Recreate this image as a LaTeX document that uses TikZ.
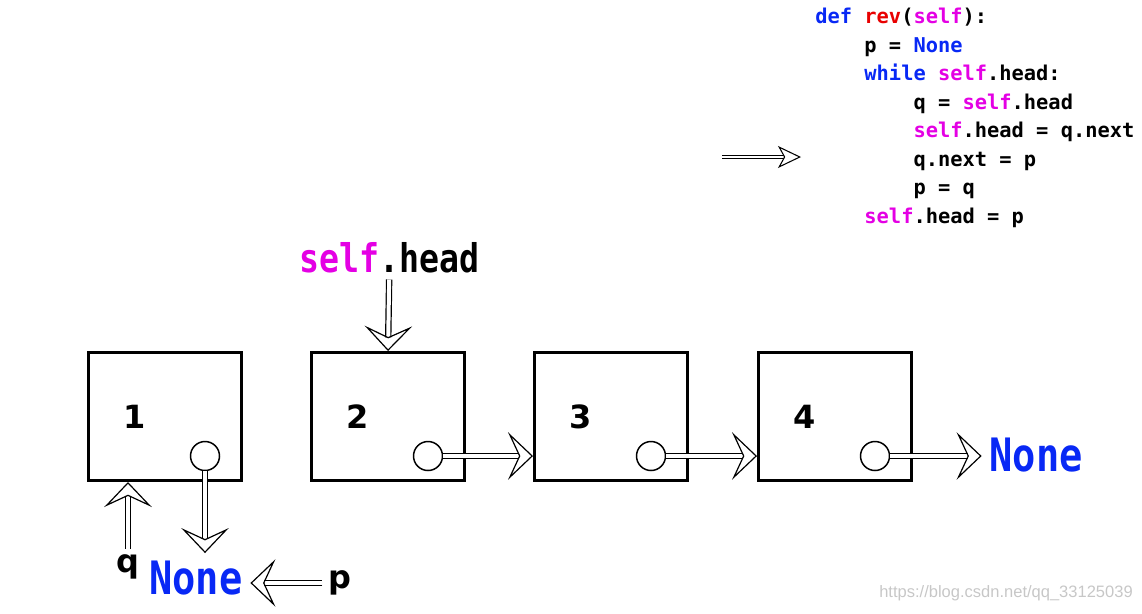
\documentclass[tikz,border=0pt]{standalone}
\usepackage{fontspec}
\usetikzlibrary{arrows.meta,calc}
\newfontfamily\codefont{DejaVu Sans Mono}
\newfontfamily\tagfont[FakeStretch=0.84]{DejaVu Sans Mono}
\newfontfamily\numfont{DejaVu Sans}
\newfontfamily\markfont{Liberation Sans}
\definecolor{kwblue}{RGB}{8,40,245}
\definecolor{kwred}{RGB}{232,0,0}
\definecolor{kwmag}{RGB}{228,0,228}
\newcommand{\slf}{\textcolor{kwmag}{self}}
\newcommand{\nil}{\textcolor{kwblue}{None}}
\begin{document}
\begin{tikzpicture}[x=0.02cm,y=-0.02cm,
  cell/.style={draw,line width=0.06cm,minimum width=3.06cm,minimum height=2.56cm},
  knob/.style={draw,circle,line width=0.85pt,fill=white,minimum size=0.58cm,inner sep=0pt},
  digit/.style={font=\numfont\bfseries\fontsize{18.2}{20}\selectfont},
  tag/.style={font=\tagfont\bfseries\fontsize{22.5}{24}\selectfont},
  nilbig/.style={font=\tagfont\bfseries\fontsize{26.2}{28}\selectfont,text=kwblue,inner sep=0.15cm},
  ptr/.style={line width=0.68pt,double=white,double distance=0.08cm,
    -{Stealth[open,length=0.5cm,width=0.95cm,inset=0.22cm,line width=0.68pt]}},
  ptrsmall/.style={line width=0.6pt,double=white,double distance=0.05cm,
    -{Stealth[open,length=0.46cm,width=0.44cm,inset=0.12cm,line width=0.6pt]}}]
\useasboundingbox (0,0) rectangle (1142,613);
% code of the method
\node[anchor=north west,inner sep=0pt,align=left,
  font=\codefont\bfseries\fontsize{11.6}{16.2}\selectfont] (code) at (815,8)
{\textcolor{kwblue}{def} \textcolor{kwred}{rev}(\slf):\\
\phantom{xxxx}p = \nil\\
\phantom{xxxx}\textcolor{kwblue}{while} \slf.head:\\
\phantom{xxxxxxxx}q = \slf.head\\
\phantom{xxxxxxxx}\slf.head = q.next\\
\phantom{xxxxxxxx}q.next = p\\
\phantom{xxxxxxxx}p = q\\
\phantom{xxxx}\slf.head = p};
\coordinate (cur0) at (722,157);
\coordinate (cur1) at (801,157);
\draw[ptrsmall] (cur0) -- (cur1);
% list nodes
\foreach \i/\x in {1/165,2/388,3/611,4/835}{
  \node[cell] (n\i) at (\x,416.5) {};
  \node[digit] (d\i) at (\x-30,417) {\i};
  \node[knob] (c\i) at (\x+40,456) {};
}
\node[tag] (head) at (389.5,258) {\slf.head};
\node[nilbig] (nil1) at (1036,455) {None};
\node[nilbig] (nil2) at (196,578) {None};
\node[digit] (q) at (128,567) {q};
\node[digit] (p) at (340,583) {p};
\node[font=\markfont\fontsize{9.4}{11}\selectfont,text=black!22] (mark) at (1006,593) {https://blog.csdn.net/qq\_33125039};
% pointers
\draw[ptr] (head) -- (n2.north);
\draw[ptr] (c2.east) -- (c2.east -| n3.west);
\draw[ptr] (c3.east) -- (c3.east -| n4.west);
\draw[ptr] (c4.east) -- (c4.east -| nil1.west);
\draw[ptr] (c1.south) -- (c1.south |- nil2.north);
\draw[ptr] (q.north) -- (q.north |- n1.south);
\draw[ptr] (p.west) -- (p.west -| nil2.east);
\end{tikzpicture}
\end{document}
